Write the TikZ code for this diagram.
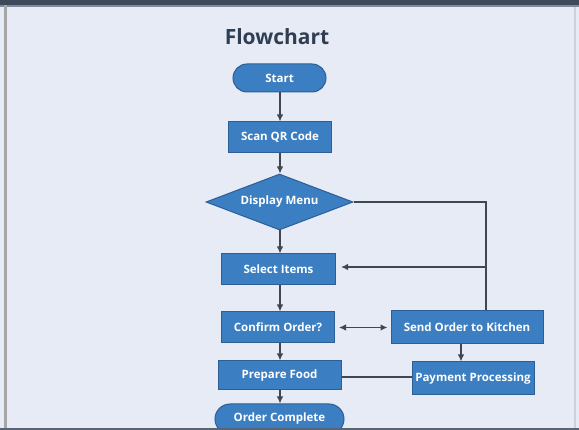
\documentclass[tikz,border=0pt]{standalone}
\usepackage{fontspec}
\setmainfont{Open Sans}
\usetikzlibrary{shapes.geometric,arrows.meta}
\definecolor{pagebg}{HTML}{E7EBF6}
\definecolor{boxfill}{HTML}{3B7EC2}
\definecolor{boxedge}{HTML}{2B5F96}
\definecolor{linecol}{HTML}{3E4752}
\definecolor{titlecol}{HTML}{2F3E52}
\definecolor{framecol}{HTML}{3C4A5C}
\tikzset{
  x=1pt, y=-1pt,
  flowbox/.style={draw=boxedge, line width=1pt, fill=boxfill, text=white,
    font=\fontsize{11.5}{13}\selectfont\bfseries, inner sep=0pt},
  pill/.style={flowbox, rounded corners=14pt},
  decision/.style={flowbox, diamond, aspect=2.6},
  conn/.style={draw=linecol, line width=1.2pt},
  flow/.style={conn, -{Latex[length=7pt,width=6.5pt]}},
  twoway/.style={conn, {Latex[length=7pt,width=6.5pt]}-{Latex[length=7pt,width=6.5pt]}}
}
\begin{document}
\begin{tikzpicture}
% slide background and frame
\fill[pagebg] (0,0) rectangle (579,430);
\useasboundingbox (0,0) rectangle (579,430);

\node[text=titlecol, font=\fontsize{21}{24}\selectfont\bfseries] (title) at (277,37) {Flowchart};

\node[pill, minimum width=93pt, minimum height=28pt] (start) at (279.5,78) {Start};
\node[flowbox, minimum width=103pt, minimum height=31pt] (scan) at (280,137.5) {Scan QR Code};
\node[decision, minimum width=147pt, minimum height=56pt] (menu) at (279.5,202) {Display Menu};
\node[flowbox, minimum width=114pt, minimum height=31pt] (select) at (278.5,269.5) {Select Items};
\node[flowbox, minimum width=113pt, minimum height=31pt] (confirm) at (278,327.5) {Confirm Order?};
\node[flowbox, minimum width=152pt, minimum height=33pt] (kitchen) at (467,327.5) {Send Order to Kitchen};
\node[flowbox, minimum width=123pt, minimum height=29pt] (prepare) at (279.5,375.5) {Prepare Food};
\node[flowbox, minimum width=122pt, minimum height=33pt] (payment) at (473,378.5) {Payment Processing};
\node[pill, minimum width=129pt, minimum height=30pt, rounded corners=15pt] (done) at (279.5,419) {Order Complete};

\coordinate (spine) at (280,0);
\coordinate (loopTop) at (486,202);
\coordinate (loopMid) at (486,267);

% main flow, kept on one vertical line
\draw[flow] (start.south -| spine) -- (scan.north -| spine);
\draw[flow] (scan.south -| spine) -- (menu.north -| spine);
\draw[flow] (menu.south -| spine) -- (select.north -| spine);
\draw[flow] (select.south -| spine) -- (confirm.north -| spine);
\draw[flow] (confirm.south -| spine) -- (prepare.north -| spine);
\draw[flow] (prepare.south -| spine) -- (done.north -| spine);

% side branch
\draw[twoway, shorten <=4pt, shorten >=3pt] (confirm.east) -- (kitchen.west);
\draw[flow] (kitchen.south -| 461,0) -- (payment.north -| 461,0);
\draw[conn] (prepare.east |- 0,377) -- (payment.west |- 0,377);
\draw[conn] (menu.east) -- (loopTop) -- (kitchen.north -| loopTop);
\draw[flow, shorten >=5pt] (loopMid) -- (select.east |- loopMid);

% slide frame
\fill[framecol] (0,0) rectangle (579,5);
\fill[framecol!60!pagebg] (0,5) rectangle (579,7);
\fill[gray!70] (4,5) rectangle (6.5,430);
\fill[gray!25!pagebg] (574,7) rectangle (575.5,428);
\fill[framecol!85] (0,428) rectangle (579,430);
\end{tikzpicture}
\end{document}
